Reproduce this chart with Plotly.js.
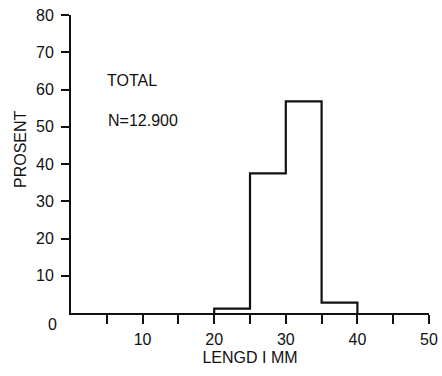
<!DOCTYPE html>
<html>
<head>
<meta charset="utf-8">
<script src="https://cdn.plot.ly/plotly-3.0.1.min.js"></script>
<style>html,body{margin:0;padding:0;background:#fff;}#chart{width:442px;height:376px;}</style>
</head>
<body>
<div id="chart"></div>
<script>
// Bin edges (mm) and percentage per bin
const binEdges = [20, 25, 30, 35, 40];
const percent = [1.2, 37.5, 56.8, 2.8];
const xTickVals = [5, 10, 15, 20, 25, 30, 35, 40, 45, 50];
const xTickText = ['', '10', '', '20', '', '30', '', '40', '', '50'];
const yTickVals = [10, 20, 30, 40, 50, 60, 70, 80];

// step outline of histogram
const sx = [binEdges[0]];
const sy = [0];
for (let i = 0; i < percent.length; i++) { sx.push(binEdges[i]); sy.push(percent[i]); }
sx.push(binEdges[binEdges.length - 1]); sy.push(0);

const FAM = 'Liberation Sans, Arial, sans-serif';
const font = {family: FAM, size: 16, color: '#111'};

const trace = {
  x: sx, y: sy, type: 'scatter', mode: 'lines',
  line: {shape: 'hv', color: '#111', width: 2.2},
  hoverinfo: 'skip', showlegend: false
};

// plot area in pixels
const L = 71, R = 13, T = 15, B = 63, W = 442, H = 376;
const pw = W - L - R, ph = H - T - B;
const px = v => (v - L) / pw;
const py = v => (H - B - v) / ph;

const layout = {
  width: W, height: H,
  margin: {l: L, r: R, t: T, b: B},
  paper_bgcolor: '#fff', plot_bgcolor: '#fff',
  font: font,
  xaxis: {
    range: [0, 50], showgrid: false, zeroline: false,
    showline: true, linecolor: '#111', linewidth: 2,
    ticks: 'outside', ticklen: 9, tickwidth: 2, tickcolor: '#111',
    tickvals: xTickVals, ticktext: xTickText,
    tickfont: font, ticklabelstandoff: 2,
    title: {text: 'LENGD I MM', font: font, standoff: 5}
  },
  yaxis: {
    range: [0, 80], showgrid: false, zeroline: false,
    showline: true, linecolor: '#111', linewidth: 2,
    ticks: 'outside', ticklen: 8, tickwidth: 2, tickcolor: '#111',
    tickvals: yTickVals, tickfont: font, ticklabelstandoff: 4
  },
  annotations: [
    {x: px(59), y: py(324), xref: 'paper', yref: 'paper', text: '0', showarrow: false, font: font, xanchor: 'right', yanchor: 'middle'},
    {x: px(20), y: py(149), xref: 'paper', yref: 'paper', text: 'PROSENT', textangle: -90, showarrow: false, font: font, xanchor: 'center', yanchor: 'middle'},
    {text: 'TOTAL', x: 4.7, y: 62.4, xref: 'x', yref: 'y', showarrow: false, xanchor: 'left', font: font},
    {text: 'N=12.900', x: 4.9, y: 51.8, xref: 'x', yref: 'y', showarrow: false, xanchor: 'left', font: font}
  ]
};

Plotly.newPlot('chart', [trace], layout, {staticPlot: true, displayModeBar: false});
</script>
</body>
</html>
